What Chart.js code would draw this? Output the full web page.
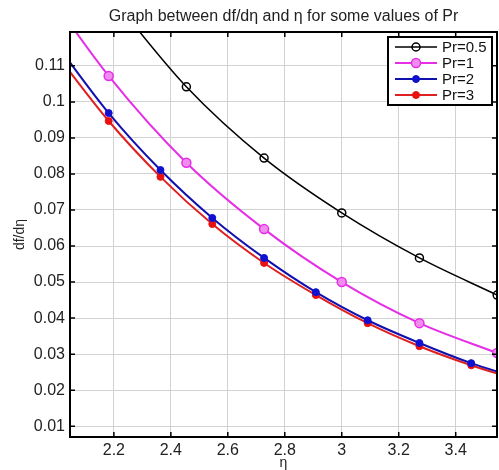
<!DOCTYPE html>
<html>
<head>
<meta charset="utf-8">
<script src="https://cdn.jsdelivr.net/npm/chart.js@4/dist/chart.umd.min.js"></script>
<style>
  html, body { margin: 0; padding: 0; background: #fff; }
  #wrap { width: 499px; height: 470px; }
</style>
</head>
<body>
<div id="wrap"><canvas id="myChart" width="499" height="470"></canvas></div>
<script>
// valores
const etaPr05 = [2.1818, 2.4545, 2.7273, 3.0, 3.2727, 3.5455];
const valPr05 = [0.1300, 0.1042, 0.0844, 0.0692, 0.0567, 0.0464];

const etaPr1 = [1.9091, 2.1818, 2.4545, 2.7273, 3.0, 3.2727, 3.5455];
const valPr1 = [0.1370, 0.1072, 0.0831, 0.0647, 0.0500, 0.0386, 0.0303];

const etaPr23 = [2.0, 2.1818, 2.3636, 2.5455, 2.7273, 2.9091, 3.0909, 3.2727, 3.4545, 3.6364];
const valPr2 = [0.1158, 0.0969, 0.0811, 0.0678, 0.0567, 0.0472, 0.0394, 0.0331, 0.0275, 0.0230];
const valPr3 = [0.1130, 0.0947, 0.0792, 0.0661, 0.0553, 0.0464, 0.0386, 0.0322, 0.0269, 0.0224];

const xTicks = [2.2, 2.4, 2.6, 2.8, 3.0, 3.2, 3.4];
const yTicks = [0.01, 0.02, 0.03, 0.04, 0.05, 0.06, 0.07, 0.08, 0.09, 0.10, 0.11];

const titulo = "Graph between df/d\u03b7 and \u03b7 for some values of Pr";
const fuente = "'Liberation Sans', Arial, sans-serif";

function puntos(xs, ys) {
    return xs.map((x, i) => ({ x: x, y: ys[i] }));
}

// titulo, leyenda y marcas internas estilo matlab
const extras = {
    id: "extras",
    afterDraw(chart) {
        const ctx = chart.ctx;
        const area = chart.chartArea;
        const xs = chart.scales.x;
        const ys = chart.scales.y;
        ctx.save();

        // marcas hacia adentro
        ctx.strokeStyle = "#000";
        ctx.lineWidth = 1.5;
        xTicks.forEach((t) => {
            const px = xs.getPixelForValue(t);
            ctx.beginPath();
            ctx.moveTo(px, area.bottom);
            ctx.lineTo(px, area.bottom - 5);
            ctx.moveTo(px, area.top);
            ctx.lineTo(px, area.top + 5);
            ctx.stroke();
        });
        yTicks.forEach((t) => {
            const py = ys.getPixelForValue(t);
            ctx.beginPath();
            ctx.moveTo(area.left, py);
            ctx.lineTo(area.left + 5, py);
            ctx.moveTo(area.right, py);
            ctx.lineTo(area.right - 5, py);
            ctx.stroke();
        });

        // marco
        ctx.lineWidth = 2;
        ctx.strokeRect(area.left, area.top, area.right - area.left, area.bottom - area.top);

        // titulo
        ctx.fillStyle = "#222";
        ctx.font = "16px " + fuente;
        ctx.textAlign = "center";
        ctx.textBaseline = "middle";
        ctx.fillText(titulo, (area.left + area.right) / 2, 17);

        // leyenda
        const bx = 388, by = 37, bw = 104, bh = 68;
        ctx.fillStyle = "#fff";
        ctx.fillRect(bx, by, bw, bh);
        ctx.strokeStyle = "#000";
        ctx.lineWidth = 2;
        ctx.strokeRect(bx, by, bw, bh);
        ctx.font = "15px " + fuente;
        ctx.textAlign = "left";
        chart.data.datasets.forEach((ds, i) => {
            const yy = by + 10 + i * 16;
            ctx.strokeStyle = ds.borderColor;
            ctx.lineWidth = ds.borderWidth;
            ctx.beginPath();
            ctx.moveTo(bx + 7, yy);
            ctx.lineTo(bx + 49, yy);
            ctx.stroke();
            ctx.beginPath();
            ctx.arc(bx + 28, yy, ds.pointRadius, 0, Math.PI * 2);
            ctx.fillStyle = ds.pointBackgroundColor;
            ctx.fill();
            ctx.lineWidth = ds.pointBorderWidth;
            ctx.strokeStyle = ds.pointBorderColor;
            ctx.stroke();
            ctx.fillStyle = "#111";
            ctx.fillText(ds.label, bx + 54, yy + 1);
        });
        ctx.restore();
    },
};

const ctx = document.getElementById("myChart");

new Chart(ctx, {
    type: "line",
    data: {
        datasets: [
            {
                label: "Pr=0.5",
                data: puntos(etaPr05, valPr05),
                borderColor: "#000000",
                borderWidth: 1.5,
                pointRadius: 4,
                pointBackgroundColor: "rgba(255,255,255,0)",
                pointBorderColor: "#000000",
                pointBorderWidth: 1.5,
            },
            {
                label: "Pr=1",
                data: puntos(etaPr1, valPr1),
                borderColor: "#e62ee6",
                borderWidth: 2,
                pointRadius: 4.5,
                pointBackgroundColor: "#f08cf0",
                pointBorderColor: "#e62ee6",
                pointBorderWidth: 1.5,
            },
            {
                label: "Pr=2",
                data: puntos(etaPr23, valPr2),
                borderColor: "#1010b0",
                borderWidth: 2,
                pointRadius: 3.5,
                pointBackgroundColor: "#1010d0",
                pointBorderColor: "#1010d0",
                pointBorderWidth: 1,
            },
            {
                label: "Pr=3",
                data: puntos(etaPr23, valPr3),
                borderColor: "#e02020",
                borderWidth: 2,
                pointRadius: 3.5,
                pointBackgroundColor: "#e81010",
                pointBorderColor: "#e81010",
                pointBorderWidth: 1,
            },
        ],
    },
    options: {
        responsive: false,
        animation: false,
        layout: {
            autoPadding: false,
            padding: { top: 32, right: 2, left: 0, bottom: 0 },
        },
        elements: {
            line: { tension: 0.4, cubicInterpolationMode: "monotone" },
        },
        plugins: {
            legend: { display: false },
            title: { display: false },
            tooltip: { enabled: false },
        },
        scales: {
            x: {
                type: "linear",
                min: 2.046,
                max: 3.545,
                afterBuildTicks: (scale) => {
                    scale.ticks = xTicks.map((v) => ({ value: v }));
                },
                afterFit: (scale) => {
                    scale.height = 33;
                    scale.paddingLeft = 0;
                    scale.paddingRight = 0;
                },
                grid: {
                    color: "#d2d2d2",
                    lineWidth: 1,
                    drawTicks: false,
                },
                border: { display: false },
                ticks: {
                    color: "#222",
                    padding: 4,
                    font: { size: 16, family: fuente },
                    callback: (v) => String(Math.round(v * 10) / 10),
                },
                title: {
                    display: true,
                    text: "\u03b7",
                    color: "#222",
                    padding: { top: 0, bottom: -2 },
                    font: { size: 14, family: fuente },
                },
            },
            y: {
                type: "linear",
                min: 0.007,
                max: 0.1194,
                afterBuildTicks: (scale) => {
                    scale.ticks = yTicks.map((v) => ({ value: v }));
                },
                afterFit: (scale) => {
                    scale.width = 70;
                },
                grid: {
                    color: "#d2d2d2",
                    lineWidth: 1,
                    drawTicks: false,
                },
                border: { display: false },
                ticks: {
                    color: "#222",
                    padding: 5,
                    font: { size: 16, family: fuente },
                    callback: (v) => String(Math.round(v * 100) / 100),
                },
                title: {
                    display: true,
                    text: "df/d\u03b7",
                    color: "#222",
                    padding: { top: 12, bottom: 0 },
                    font: { size: 14, family: fuente },
                },
            },
        },
    },
    plugins: [extras],
});
</script>
</body>
</html>
